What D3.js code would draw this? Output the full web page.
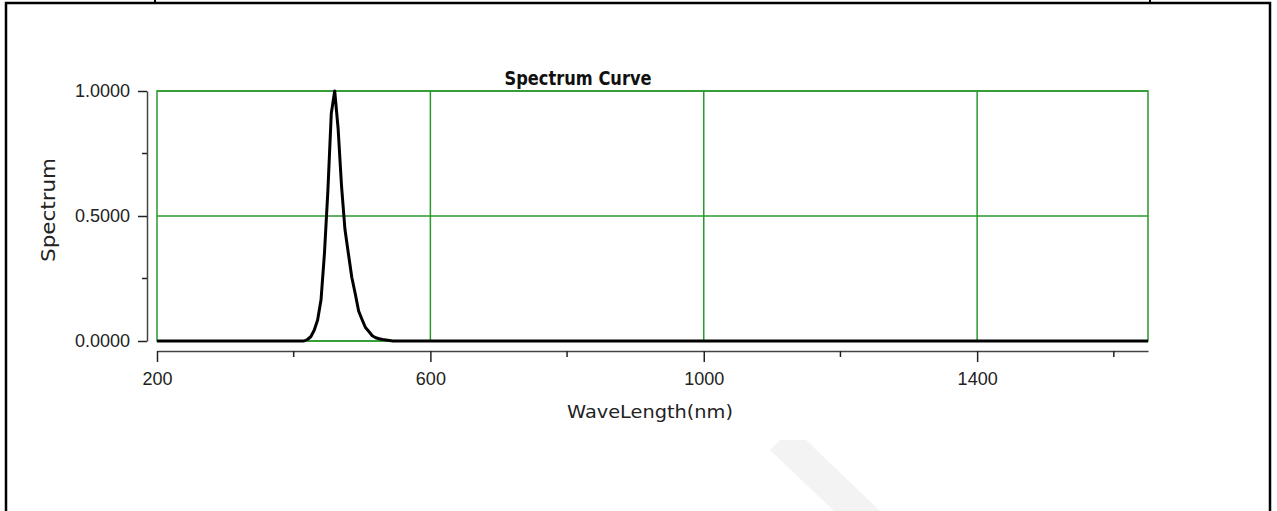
<!DOCTYPE html>
<html>
<head>
<meta charset="utf-8">
<script src="https://cdn.jsdelivr.net/npm/d3@7"></script>
<style>
  body { margin: 0; background: #fff; }
  svg { display: block; font-family: "Liberation Sans", Arial, sans-serif; }
</style>
</head>
<body>
<div id="chart"></div>
<script>
// spectrum (nm -> relative intensity)
const wavelength = [200, 410, 415, 420, 425, 430, 435, 440, 445, 450, 455, 460, 465, 470,
                    475, 480, 485, 490, 495, 500, 505, 510, 515, 520, 525, 530, 535, 540, 545, 1650];
const spectrum   = [0, 0, 0, 0.006, 0.017, 0.043, 0.084, 0.165, 0.35, 0.6, 0.91, 1.0, 0.85, 0.62,
                    0.447, 0.35, 0.255, 0.19, 0.12, 0.086, 0.054, 0.038, 0.021, 0.013, 0.009, 0.006, 0.004, 0.002, 0, 0];

const xDomain = [200, 1650];
const yDomain = [0, 1];
const xMajor = [200, 600, 1000, 1400];
const xMinor = [400, 800, 1200, 1600];
const yMajor = [0, 0.5, 1];
const yMinor = [0.25, 0.75];

const W = 1277, H = 511;
const plot = { left: 157, right: 1148, top: 91, bottom: 341 };
const green = "#2a982c";

const svg = d3.select("#chart").append("svg")
    .attr("width", W).attr("height", H);

// page frame (table cell borders)
const frame = svg.append("g").attr("stroke", "#000").attr("fill", "none");
frame.append("path").attr("stroke-width", 2.5)
    .attr("d", `M6,${H + 5} V3 H1270 V${H + 5}`);
frame.append("path").attr("stroke-width", 2)
    .attr("d", "M155,0 V3 M1150,0 V3");

// faint watermark stripe
svg.append("path")
    .attr("fill", "#f3f3f3")
    .attr("d", "M780,440 L806,440 L880,511 L834,511 L770,450 Z");

const x = d3.scaleLinear().domain(xDomain).range([plot.left, plot.right]);
const y = d3.scaleLinear().domain(yDomain).range([plot.bottom, plot.top]);

// green grid + plot border
const grid = svg.append("g").attr("stroke", green).attr("stroke-width", 1.5).attr("fill", "none");
grid.selectAll("line.v")
  .data(xMajor.filter(d => d > xDomain[0]))
  .join("line").attr("class", "v")
    .attr("x1", d => x(d)).attr("x2", d => x(d))
    .attr("y1", plot.top).attr("y2", plot.bottom);
grid.selectAll("line.h")
  .data(yMajor)
  .join("line").attr("class", "h")
    .attr("x1", plot.left).attr("x2", plot.right)
    .attr("y1", d => y(d)).attr("y2", d => y(d));
grid.append("rect")
    .attr("x", plot.left).attr("y", plot.top)
    .attr("width", plot.right - plot.left).attr("height", plot.bottom - plot.top);

// curve
const data = wavelength.map((w, i) => ({ w, v: spectrum[i] }));
svg.append("path")
    .datum(data)
    .attr("fill", "none")
    .attr("stroke", "#000")
    .attr("stroke-width", 3)
    .attr("stroke-linejoin", "round")
    .attr("d", d3.line().x(d => x(d.w)).y(d => y(d.v)));

// axes (offset from the plot, like the original)
const yAxis = svg.append("g")
    .attr("transform", "translate(147,0)")
    .call(d3.axisLeft(y).tickValues(yMajor).tickFormat(d3.format(".4f"))
      .tickSize(9).tickSizeOuter(0).tickPadding(8));
yAxis.append("g").selectAll("line")
  .data(yMinor)
  .join("line")
    .attr("x1", -5).attr("x2", 0)
    .attr("y1", d => y(d)).attr("y2", d => y(d));

const xAxis = svg.append("g")
    .attr("transform", "translate(0,351)")
    .call(d3.axisBottom(x).tickValues(xMajor).tickFormat(d3.format("d"))
      .tickSize(11).tickSizeOuter(0).tickPadding(10));
xAxis.append("g").selectAll("line")
  .data(xMinor)
  .join("line")
    .attr("x1", d => x(d)).attr("x2", d => x(d))
    .attr("y1", 0).attr("y2", 6);

[yAxis, xAxis].forEach(a => {
  a.selectAll("path.domain").attr("stroke", "#444").attr("stroke-width", 1.5);
  a.selectAll("line").attr("stroke", "#222").attr("stroke-width", 1.5);
  a.selectAll("text").attr("font-size", "18px").attr("fill", "#222")
    .attr("font-family", "'Liberation Sans', Arial, sans-serif");
});

// titles
svg.append("text")
    .attr("x", 578).attr("y", 85)
    .attr("text-anchor", "middle")
    .attr("font-size", "19px").attr("font-weight", "bold").attr("fill", "#111")
    .attr("font-family", "'DejaVu Sans', sans-serif")
    .attr("textLength", 147).attr("lengthAdjust", "spacingAndGlyphs")
    .text("Spectrum Curve");

svg.append("text")
    .attr("x", 650).attr("y", 418)
    .attr("text-anchor", "middle")
    .attr("font-size", "18px").attr("fill", "#222")
    .attr("font-family", "'DejaVu Sans', sans-serif")
    .attr("textLength", 166).attr("lengthAdjust", "spacingAndGlyphs")
    .text("WaveLength(nm)");

svg.append("text")
    .attr("transform", "translate(55,210) rotate(-90)")
    .attr("text-anchor", "middle")
    .attr("font-size", "19px").attr("fill", "#222")
    .attr("font-family", "'DejaVu Sans', sans-serif")
    .attr("textLength", 104).attr("lengthAdjust", "spacingAndGlyphs")
    .text("Spectrum");
</script>
</body>
</html>
